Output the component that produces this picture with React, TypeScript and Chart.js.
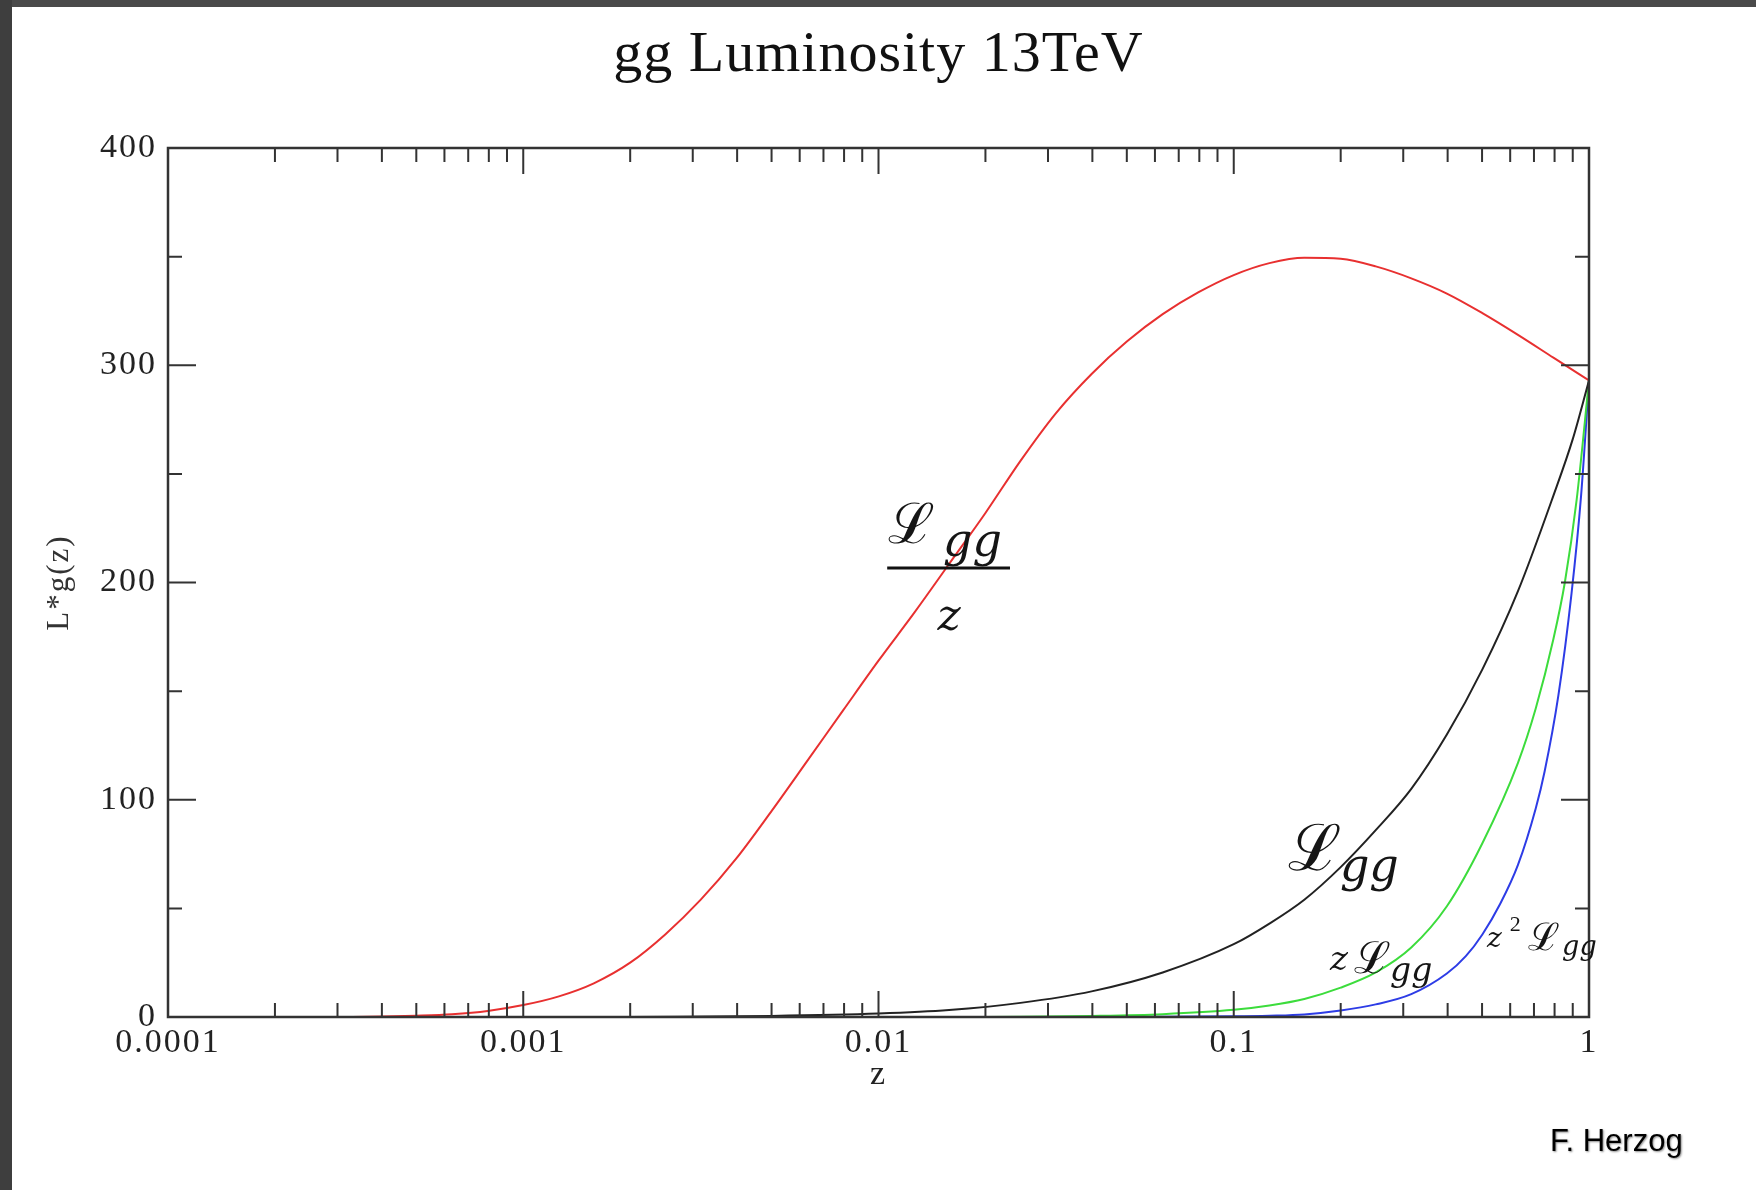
import React, { useEffect, useRef } from 'react';
import { Chart, registerables } from 'chart.js';

Chart.register(...registerables);

// ---- data ----
const zRed = [0.0003, 0.0004, 0.0005, 0.00063, 0.000794, 0.001, 0.00126, 0.00158, 0.002, 0.00251, 0.00316, 0.00398, 0.00501, 0.00631, 0.00794, 0.01, 0.0126, 0.0158, 0.02, 0.0251, 0.0316, 0.0398, 0.0501, 0.0631, 0.0794, 0.1, 0.126, 0.158, 0.2, 0.251, 0.316, 0.398, 0.501, 0.631, 0.794, 1];
const lggOverZ = [0, 0.2, 0.6, 1.3, 2.8, 5.5, 9.5, 15.5, 25, 38, 54, 73, 95, 118, 141, 164, 186, 208.5, 232, 256, 278, 296, 311, 323.5, 333.5, 341.5, 347, 349.5, 349, 345.5, 340, 333, 324, 314, 303.5, 293];

const zBlack = [0.002, 0.005, 0.01, 0.0158, 0.0251, 0.0398, 0.0631, 0.1, 0.126, 0.158, 0.2, 0.251, 0.316, 0.398, 0.501, 0.631, 0.794, 0.9, 1];
const lgg = [0, 0.5, 1.6, 3.2, 6.5, 11.8, 20.5, 33.5, 43, 54, 69, 86, 105, 130, 160, 196, 240, 266, 293];

const zGreen = [0.02, 0.0398, 0.0631, 0.1, 0.126, 0.158, 0.2, 0.251, 0.316, 0.398, 0.501, 0.631, 0.708, 0.794, 0.855, 0.923, 1];
const zLgg = [0, 0.5, 1.3, 3.3, 5.3, 8.3, 13.5, 20.5, 32, 51, 80, 117, 142, 174, 200, 238, 293];

const zBlue = [0.05, 0.1, 0.126, 0.158, 0.2, 0.251, 0.316, 0.398, 0.45, 0.501, 0.562, 0.631, 0.708, 0.75, 0.82, 0.893, 0.95, 1];
const z2Lgg = [0, 0.3, 0.6, 1.2, 3, 5.8, 10.5, 20, 28, 38, 52, 70, 96, 113, 148, 195, 240, 293];

const xTickValues = [0.0001, 0.001, 0.01, 0.1, 1];
const xTickLabels = ['0.0001', '0.001', '0.01', '0.1', '1'];
const xMinorMultipliers = [2, 3, 4, 5, 6, 7, 8, 9];
const yTickValues = [0, 100, 200, 300, 400];
const yTickLabels = ['0', '100', '200', '300', '400'];
const yMinorValues = [50, 150, 250, 350];

const titleText = 'gg Luminosity 13TeV';
const xTitle = 'z';
const yTitle = 'L*g(z)';
const creditText = 'F. Herzog';

// math labels (anchored in data space)
const mathLabels = [
  { text: '\u2112', z: 0.01064, v: 218, font: '56px "DejaVu Serif"' },
  { text: 'gg', z: 0.0152, v: 212, font: 'italic 46px "DejaVu Serif"' },
  { text: 'z', z: 0.0158, v: 178, font: 'italic 44px "DejaVu Serif"', align: 'center' },
  { text: '\u2112', z: 0.1421, v: 67.7, font: '64px "DejaVu Serif"' },
  { text: 'gg', z: 0.199, v: 62.6, font: 'italic 46px "DejaVu Serif"' },
  { text: 'z', z: 0.1866, v: 21.6, font: 'italic 34px "DejaVu Serif"' },
  { text: '\u2112', z: 0.2174, v: 20.3, font: '44px "DejaVu Serif"' },
  { text: 'gg', z: 0.2754, v: 16.5, font: 'italic 33px "DejaVu Serif"' },
  { text: 'z', z: 0.5163, v: 32.2, font: 'italic 28px "DejaVu Serif"' },
  { text: '2', z: 0.5985, v: 39.5, font: '22px "Liberation Serif"' },
  { text: '\u2112', z: 0.6726, v: 30.8, font: '38px "DejaVu Serif"' },
  { text: 'gg', z: 0.84, v: 28.5, font: 'italic 27px "DejaVu Serif"' },
];
const fractionBar = { z1: 0.01058, z2: 0.02345, v: 206.7 };

const pts = (xs: number[], ys: number[]) => xs.map((x, i) => ({ x, y: ys[i] }));

const framePlugin = {
  id: 'framePlugin',
  beforeDraw(chart: any) {
    const { ctx, width, height } = chart;
    ctx.save();
    ctx.fillStyle = '#ffffff';
    ctx.fillRect(0, 0, width, height);
    ctx.fillStyle = '#4a4a4a';
    ctx.fillRect(0, 0, width, 7);
    ctx.fillStyle = '#3e3e3e';
    ctx.fillRect(0, 0, 12, height);
    ctx.restore();
    try { ctx.letterSpacing = '2px'; } catch (e) { /* ignore */ }
  },
  afterDatasetsDraw(chart: any) {
    const { ctx, chartArea: a } = chart;
    const xs = chart.scales.x;
    const ys = chart.scales.y;
    ctx.save();
    ctx.strokeStyle = '#333';
    ctx.lineWidth = 2;
    ctx.beginPath();
    const xt = (v: number, len: number) => {
      const px = xs.getPixelForValue(v);
      ctx.moveTo(px, a.bottom);
      ctx.lineTo(px, a.bottom - len);
      ctx.moveTo(px, a.top);
      ctx.lineTo(px, a.top + len);
    };
    const yt = (v: number, len: number) => {
      const py = ys.getPixelForValue(v);
      ctx.moveTo(a.left, py);
      ctx.lineTo(a.left + len, py);
      ctx.moveTo(a.right, py);
      ctx.lineTo(a.right - len, py);
    };
    xTickValues.forEach((v) => xt(v, 26));
    xTickValues.slice(0, -1).forEach((d) => xMinorMultipliers.forEach((m) => xt(d * m, 14)));
    yTickValues.forEach((v) => yt(v, 28));
    yMinorValues.forEach((v) => yt(v, 14));
    ctx.stroke();
    ctx.lineWidth = 2.5;
    ctx.strokeRect(a.left, a.top, a.right - a.left, a.bottom - a.top);
    ctx.restore();
  },
  afterDraw(chart: any) {
    const { ctx, chartArea: a } = chart;
    const xs = chart.scales.x;
    const ys = chart.scales.y;
    ctx.save();
    // title
    try { ctx.letterSpacing = '1px'; } catch (e) { /* ignore */ }
    ctx.fillStyle = '#111';
    ctx.textBaseline = 'alphabetic';
    ctx.textAlign = 'center';
    ctx.font = '58px "Liberation Serif"';
    ctx.fillText(titleText, (a.left + a.right) / 2, 71);
    try { ctx.letterSpacing = '0px'; } catch (e) { /* ignore */ }
    // math labels
    ctx.fillStyle = '#151515';
    mathLabels.forEach((m: any) => {
      ctx.font = m.font;
      ctx.textAlign = m.align || 'left';
      ctx.fillText(m.text, xs.getPixelForValue(m.z), ys.getPixelForValue(m.v));
    });
    ctx.strokeStyle = '#111';
    ctx.lineWidth = 3;
    ctx.beginPath();
    const by = ys.getPixelForValue(fractionBar.v);
    ctx.moveTo(xs.getPixelForValue(fractionBar.z1), by);
    ctx.lineTo(xs.getPixelForValue(fractionBar.z2), by);
    ctx.stroke();
    // credit
    ctx.font = '31px "Liberation Sans"';
    ctx.textAlign = 'left';
    ctx.shadowColor = 'rgba(0,0,0,0.45)';
    ctx.shadowOffsetX = 1;
    ctx.shadowOffsetY = 1;
    ctx.shadowBlur = 2;
    ctx.fillStyle = '#000';
    ctx.fillText(creditText, 1550, 1151);
    ctx.restore();
  },
};

export default function App() {
  const ref = useRef<HTMLCanvasElement | null>(null);
  useEffect(() => {
    document.body.style.margin = '0';
    const canvas = ref.current;
    if (!canvas) return;
    const line = (label: string, data: any, color: string) => ({
      label,
      data,
      borderColor: color,
      backgroundColor: color,
      borderWidth: 2,
      pointRadius: 0,
      cubicInterpolationMode: 'monotone' as const,
      fill: false,
    });
    const chart = new Chart(canvas, {
      type: 'line',
      data: {
        datasets: [
          line('Lgg/z', pts(zRed, lggOverZ), 'rgb(232,48,48)'),
          line('Lgg', pts(zBlack, lgg), '#222222'),
          line('zLgg', pts(zGreen, zLgg), 'rgb(60,220,60)'),
          line('z2Lgg', pts(zBlue, z2Lgg), 'rgb(45,60,230)'),
        ],
      },
      plugins: [framePlugin],
      options: {
        responsive: false,
        animation: false,
        devicePixelRatio: 1,
        layout: { padding: { left: 0, top: 148, right: 167, bottom: 0 } },
        plugins: {
          legend: { display: false },
          title: { display: false },
          tooltip: { enabled: false },
        },
        scales: {
          x: {
            type: 'logarithmic',
            min: 0.0001,
            max: 1,
            grid: { display: false, drawTicks: false },
            border: { display: false },
            afterBuildTicks: (s: any) => {
              s.ticks = xTickValues.map((v) => ({ value: v }));
            },
            afterFit: (s: any) => {
              s.height = 173;
            },
            ticks: {
              autoSkip: false,
              maxRotation: 0,
              padding: 6,
              color: '#222',
              font: { family: '"Liberation Serif"', size: 34 },
              callback: (_v: any, i: number) => xTickLabels[i],
            },
            title: {
              display: true,
              text: xTitle,
              color: '#222',
              font: { family: '"Liberation Serif"', size: 34 },
              padding: { top: 0, bottom: 95 },
            },
          },
          y: {
            type: 'linear',
            min: 0,
            max: 400,
            grid: { display: false, drawTicks: false },
            border: { display: false },
            afterBuildTicks: (s: any) => {
              s.ticks = yTickValues.map((v) => ({ value: v }));
            },
            afterFit: (s: any) => {
              s.width = 168;
            },
            ticks: {
              padding: 11,
              color: '#222',
              font: { family: '"Liberation Serif"', size: 34 },
              callback: (_v: any, i: number) => yTickLabels[i],
            },
            title: {
              display: true,
              text: yTitle,
              color: '#333',
              font: { family: '"Liberation Serif"', size: 31 },
              padding: { top: 41, bottom: 0 },
            },
          },
        },
      },
    });
    return () => chart.destroy();
  }, []);
  return <canvas ref={ref} width={1756} height={1190} style={{ display: 'block', width: 1756, height: 1190 }} />;
}
